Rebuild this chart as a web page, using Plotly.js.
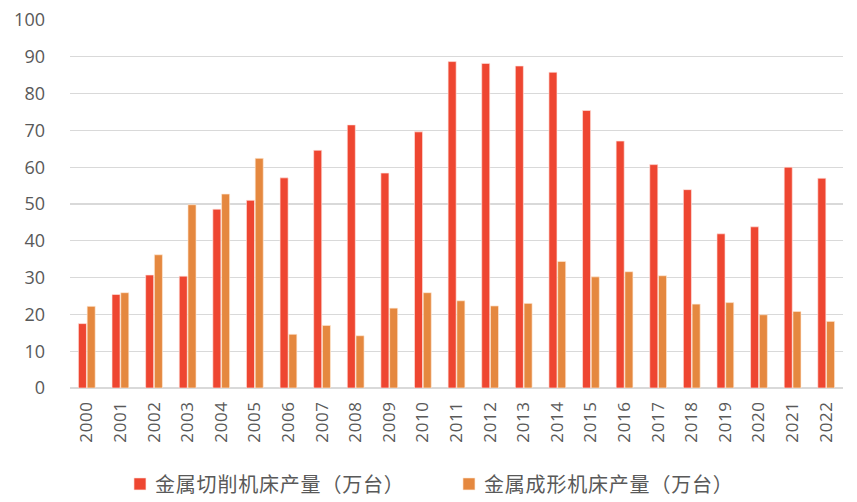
<!DOCTYPE html>
<html>
<head>
<meta charset="utf-8">
<script src="https://cdn.plot.ly/plotly-3.0.1.min.js"></script>
<style>
html,body{margin:0;padding:0;background:#fff;}
#chart{width:857px;height:502px;}
.xtick text{letter-spacing:0.6px;}
.legendtext{letter-spacing:0.8px; transform:translateX(-5px);}
</style>
</head>
<body>
<div id="chart"></div>
<script>
const years = ['2000','2001','2002','2003','2004','2005','2006','2007','2008','2009','2010','2011','2012','2013','2014','2015','2016','2017','2018','2019','2020','2021','2022'];
const cuttingName = '金属切削机床产量（万台）';
const formingName = '金属成形机床产量（万台）';
const cutting = [17.5,25.4,30.7,30.4,48.6,51.0,57.1,64.6,71.5,58.4,69.6,88.7,88.2,87.5,85.8,75.4,67.1,60.7,53.9,41.9,43.8,60.0,57.0];
const forming = [22.2,25.9,36.2,49.8,52.7,62.4,14.6,17.0,14.2,21.7,25.9,23.7,22.3,23.0,34.4,30.2,31.6,30.5,22.8,23.2,19.9,20.8,18.1];
const yTicks = [0,10,20,30,40,50,60,70,80,90,100];

const fontFam = '"Open Sans", "Noto Sans CJK SC", sans-serif';
const traces = [
  {type:'bar', name:cuttingName, x:years, y:cutting,
   marker:{color:'#EE4631', line:{color:'rgba(255,230,225,0.8)', width:0.8}}},
  {type:'bar', name:formingName, x:years, y:forming,
   marker:{color:'#E5883F', line:{color:'rgba(255,235,215,0.8)', width:0.8}}}
];
const layout = {
  width:857, height:502,
  margin:{l:70, r:14, t:20, b:114, autoexpand:false},
  paper_bgcolor:'#fff', plot_bgcolor:'#fff',
  barmode:'group', bargap:0.48, bargroupgap:0.08,
  font:{family:fontFam, color:'#595959'},
  xaxis:{type:'category', tickangle:-90, tickfont:{size:17, color:'#595959', family:fontFam},
         showgrid:false, showline:false, ticks:'', zeroline:false, automargin:false, ticklabelstandoff:9},
  yaxis:{range:[0,100], tickvals:yTicks, ticktext:yTicks.map(String),
         tickfont:{size:18, color:'#595959', family:fontFam},
         showgrid:true, gridcolor:'#D9D9D9', gridwidth:1.3, zeroline:true, zerolinecolor:'#D9D9D9', zerolinewidth:1.3,
         ticks:'', ticklabelstandoff:24, showline:false, automargin:false, fixedrange:true},
  showlegend:true,
  legend:{orientation:'h', x:0.14, xref:'container', xanchor:'left', y:0.036, yref:'container', yanchor:'middle',
          font:{size:20, color:'#595959', family:'"Noto Sans CJK SC", sans-serif'},
          itemwidth:30, entrywidth:284, tracegroupgap:0, bgcolor:'rgba(0,0,0,0)'}
};
Plotly.newPlot('chart', traces, layout, {displayModeBar:false, staticPlot:true});
</script>
</body>
</html>
